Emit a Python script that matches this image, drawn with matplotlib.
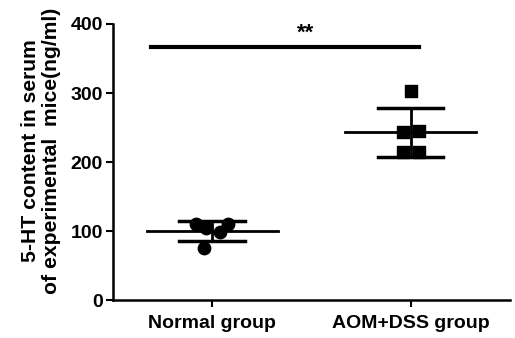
import numpy as np
from matplotlib import pyplot as plt

plt.rcParams['font.family'] = ['Liberation Sans', 'DejaVu Sans']
plt.rcParams['font.weight'] = 'bold'

# group data
groups = ['Normal group', 'AOM+DSS group']
normal_x = [-0.08, 0.08, -0.03, 0.04, -0.04]
normal_y = [110, 111, 104, 98, 76]
aom_x = [0.0, -0.04, 0.04, -0.04, 0.04]
aom_y = [303, 244, 245, 214, 214]
means = [100, 243]
sds = [14, 36]
sig_y = 366
sig_text = '**'

fig, ax = plt.subplots(figsize=(5.15, 3.38), dpi=100)
fig.subplots_adjust(left=0.219, right=0.99, bottom=0.112, top=0.929)

ax.scatter(normal_x, normal_y, marker='o', s=80, color='black', zorder=3)
ax.scatter(np.array(aom_x) + 1, aom_y, marker='s', s=70, color='black', zorder=3)

for i, (m, s) in enumerate(zip(means, sds)):
    ax.plot([i - 0.33, i + 0.33], [m, m], color='black', lw=2)
    ax.plot([i - 0.165, i + 0.165], [m + s, m + s], color='black', lw=2.5)
    ax.plot([i - 0.165, i + 0.165], [m - s, m - s], color='black', lw=2.5)
    ax.plot([i, i], [m - s, m + s], color='black', lw=2)

# significance bar
ax.plot([-0.31, 1.04], [sig_y, sig_y], color='black', lw=3)
ax.text(0.47, sig_y + 5, sig_text, ha='center', va='bottom', fontsize=16, fontweight='bold')

ax.set_xlim(-0.5, 1.5)
ax.set_ylim(0, 400)
ax.set_yticks([0, 100, 200, 300, 400])
ax.set_xticks([0, 1])
ax.set_xticklabels(groups, fontsize=14, fontweight='bold')
ax.tick_params(axis='y', labelsize=14, width=1.5, length=5, pad=2)
ax.tick_params(axis='x', width=1.5, length=5, pad=6)
for lab in ax.get_yticklabels():
    lab.set_fontweight('bold')
ax.set_ylabel('5-HT content in serum\nof experimental  mice(ng/ml)', fontsize=15.2,
              fontweight='bold', linespacing=1.15)
ax.yaxis.set_label_coords(-0.13, 0.54)
ax.spines['top'].set_visible(False)
ax.spines['right'].set_visible(False)
ax.spines['left'].set_linewidth(1.8)
ax.spines['bottom'].set_linewidth(1.8)

plt.savefig('out.png', dpi=100)
